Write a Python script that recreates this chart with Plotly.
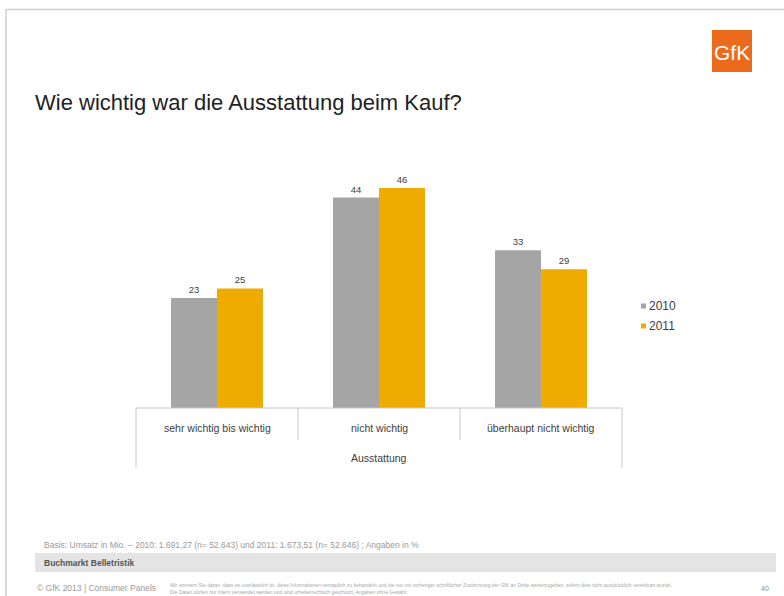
import plotly.graph_objects as go

# Daten
kategorien = ["sehr wichtig bis wichtig", "nicht wichtig", "überhaupt nicht wichtig"]
jahre = ["2010", "2011"]
werte_2010 = [23, 44, 33]
werte_2011 = [25, 46, 29]
farben = ["#a5a5a5", "#f0ab00"]

W, H = 784, 596
# Plotbereich in Pixeln
L, R, T, B = 136, 622, 150, 408


def px(x):
    return (x - L) / (R - L)


def py(y):
    return (B - y) / (B - T)


fig = go.Figure()
for name, werte, farbe in zip(jahre, [werte_2010, werte_2011], farben):
    fig.add_trace(go.Bar(
        x=kategorien, y=werte, name=name,
        marker=dict(color=farbe, line=dict(width=0)),
        text=[str(v) for v in werte], textposition="outside",
        textfont=dict(size=9.5, color="#404040", family="Liberation Sans"),
        cliponaxis=False, showlegend=False,
    ))

line_col = "#c8c8c8"
shapes = []
# Rahmen der Seite
shapes.append(dict(type="line", xref="paper", yref="paper", x0=px(6), x1=px(784), y0=py(9.5), y1=py(9.5),
                   line=dict(color="#cfcfcf", width=1.5)))
shapes.append(dict(type="line", xref="paper", yref="paper", x0=px(6), x1=px(6), y0=py(9.5), y1=py(596),
                   line=dict(color="#cfcfcf", width=1.5)))
# Kategorieachse: Grundlinie und Trennlinien
shapes.append(dict(type="line", xref="paper", yref="paper", x0=0, x1=1, y0=0, y1=0,
                   line=dict(color=line_col, width=1)))
n = len(kategorien)
for i in range(n + 1):
    unten = 468 if i in (0, n) else 440
    shapes.append(dict(type="line", xref="paper", yref="paper", x0=i / n, x1=i / n, y0=0, y1=py(unten),
                       line=dict(color=line_col, width=1)))
# Legende (Quadrate)
for i, farbe in enumerate(farben):
    yc = 306 + 20 * i
    shapes.append(dict(type="rect", xref="paper", yref="paper", x0=px(641), x1=px(646),
                       y0=py(yc + 2.5), y1=py(yc - 2.5), fillcolor=farbe, line=dict(width=0)))
# Graues Band unten
shapes.append(dict(type="rect", xref="paper", yref="paper", x0=px(35), x1=px(776),
                   y0=py(572), y1=py(553), fillcolor="#e4e4e4", line=dict(width=0), layer="below"))
# Logo
shapes.append(dict(type="rect", xref="paper", yref="paper", x0=px(712), x1=px(752),
                   y0=py(72), y1=py(30), fillcolor="#ec6a1c", line=dict(width=0)))

ann = []
font = "Liberation Sans"
for k in kategorien:
    ann.append(dict(x=k, xref="x", y=py(428), yref="paper", text=k, showarrow=False,
                    font=dict(size=10.5, color="#404040", family=font), yanchor="middle"))
ann.append(dict(x=0.5, xref="paper", y=py(458), yref="paper", text="Ausstattung", showarrow=False,
                font=dict(size=10.5, color="#404040", family=font), yanchor="middle"))
for i, name in enumerate(jahre):
    ann.append(dict(x=px(647), xref="paper", y=py(306 + 20 * i), yref="paper", text=name, showarrow=False,
                    xanchor="left", yanchor="middle", font=dict(size=12, color="#404040", family=font)))
ann.append(dict(x=px(33), xref="paper", y=py(103), yref="paper",
                text="Wie wichtig war die Ausstattung beim Kauf?", showarrow=False,
                xanchor="left", yanchor="middle", font=dict(size=22, color="#222222", family=font)))
ann.append(dict(x=px(732), xref="paper", y=py(52), yref="paper", text="GfK", showarrow=False,
                xanchor="center", yanchor="middle", font=dict(size=21, color="#ffffff", family=font)))
ann.append(dict(x=px(42), xref="paper", y=py(545), yref="paper",
                text="Basis: Umsatz in Mio. – 2010: 1.691,27 (n= 52.643) und 2011: 1.673,51 (n= 52.646) ; Angaben in %",
                showarrow=False, xanchor="left", yanchor="middle",
                font=dict(size=8.5, color="#9a9a9a", family=font)))
ann.append(dict(x=px(42), xref="paper", y=py(562.5), yref="paper", text="<b>Buchmarkt Belletristik</b>",
                showarrow=False, xanchor="left", yanchor="middle",
                font=dict(size=8.5, color="#555555", family=font)))
ann.append(dict(x=px(35), xref="paper", y=py(588), yref="paper", text="© GfK 2013 | Consumer Panels",
                showarrow=False, xanchor="left", yanchor="middle",
                font=dict(size=8.5, color="#9a9a9a", family=font)))
ann.append(dict(x=px(168), xref="paper", y=py(588), yref="paper",
                text="Wir erinnern Sie daran, dass es unerlässlich ist, diese Informationen vertraulich zu behandeln und sie nur mit vorheriger schriftlicher Zustimmung der GfK an Dritte weiterzugeben, sofern dies nicht ausdrücklich vereinbart wurde.<br>"
                     "Die Daten dürfen nur intern verwendet werden und sind urheberrechtlich geschützt; Angaben ohne Gewähr.",
                showarrow=False, xanchor="left", yanchor="middle", align="left",
                font=dict(size=5, color="#a8a8a8", family=font)))
ann.append(dict(x=px(765), xref="paper", y=py(588), yref="paper", text="40", showarrow=False,
                xanchor="center", yanchor="middle", font=dict(size=7, color="#8a8a8a", family=font)))

fig.update_layout(
    width=W, height=H,
    margin=dict(l=L, r=W - R, t=T, b=H - B, pad=0),
    paper_bgcolor="white", plot_bgcolor="white",
    barmode="group", bargap=70 / 162, bargroupgap=0,
    xaxis=dict(showticklabels=False, showgrid=False, zeroline=False, showline=False, ticks=""),
    yaxis=dict(range=[0, (B - T) / ((408 - 298) / 23)], visible=False),
    shapes=shapes, annotations=ann, showlegend=False,
)
fig.write_html("out.html")
